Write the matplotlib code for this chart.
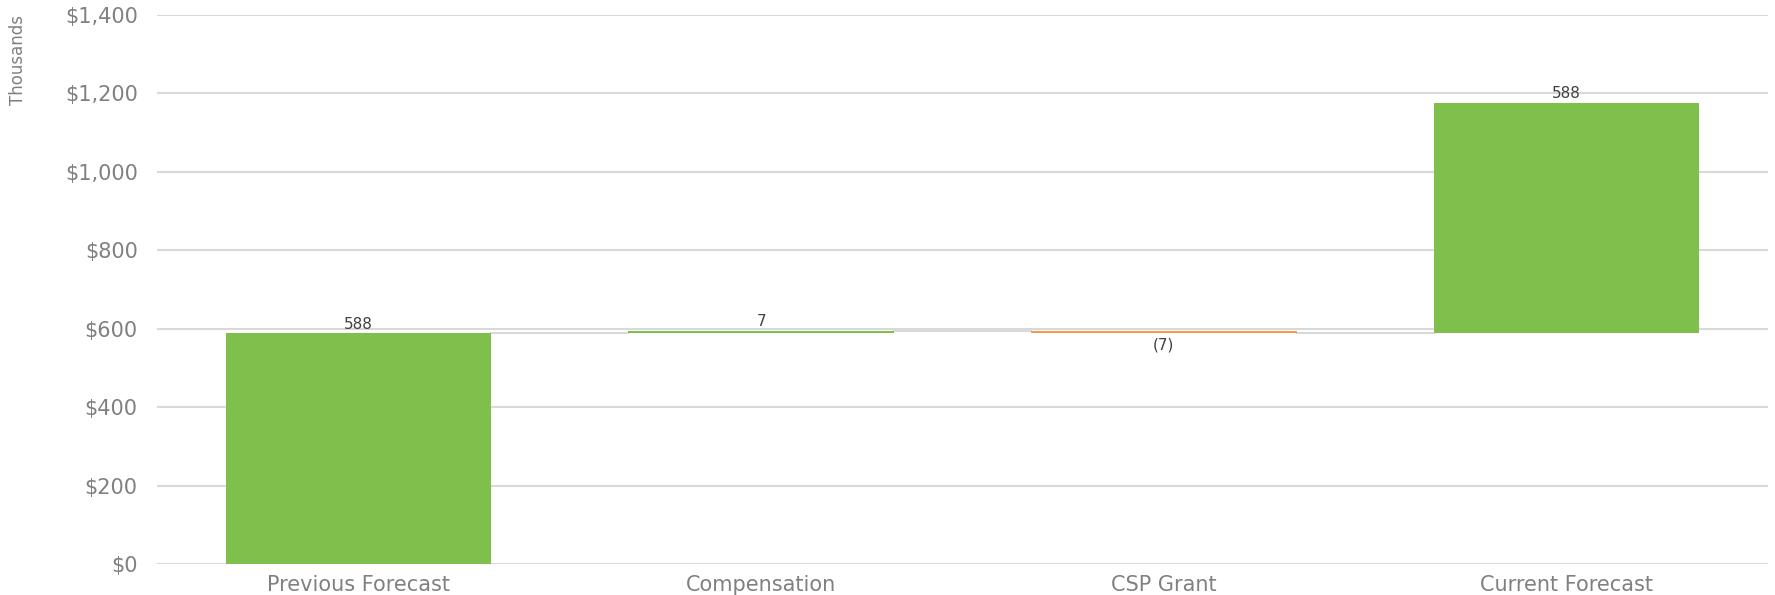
import matplotlib.pyplot as plt
from matplotlib.ticker import FuncFormatter

# Waterfall: previous forecast -> changes -> current forecast (in thousands)
categories = ['Previous Forecast', 'Compensation', 'CSP Grant', 'Current Forecast']
values = [588, 7, -7, 588]
labels = ['588', '7', '(7)', '588']

green = '#7fbf4b'
orange = '#f39a4f'
grid_col = '#d9d9d9'
tick_col = '#808080'

# each bar starts where the running total stands
bottoms = [sum(values[:i]) for i in range(len(values))]
tops = [b + v for b, v in zip(bottoms, values)]

colors = [green if v >= 0 else orange for v in values]

fig = plt.figure(figsize=(17.75, 5.95), dpi=100)
ax = fig.add_axes([0.0885, 0.052, 0.9075, 0.923])

x = list(range(len(categories)))
width = 0.66
ax.bar(x, values, bottom=bottoms, width=width, color=colors, zorder=3)

# connector lines between consecutive bars
for i in range(len(categories) - 1):
    level = bottoms[i + 1]
    ax.plot([i + width / 2, i + 1 - width / 2], [level, level],
            color=grid_col, lw=1.5, zorder=2)

# value labels
for i, (v, lab) in enumerate(zip(values, labels)):
    if v >= 0:
        ax.annotate(lab, (i, tops[i]), xytext=(0, 1), textcoords='offset points',
                    ha='center', va='bottom', fontsize=11, color='#404040', zorder=4)
    else:
        ax.annotate(lab, (i, tops[i]), xytext=(0, -3), textcoords='offset points',
                    ha='center', va='top', fontsize=11, color='#404040', zorder=4)

ax.set_xlim(-0.5, len(categories) - 0.5)
ax.set_ylim(0, 1400)
ax.set_yticks(range(0, 1401, 200))
ax.yaxis.set_major_formatter(FuncFormatter(lambda v, p: f'${v:,.0f}'))
ax.set_xticks(x)
ax.set_xticklabels(categories)
ax.tick_params(axis='both', length=0, labelsize=15, colors=tick_col)
ax.tick_params(axis='y', pad=14)
ax.tick_params(axis='x', pad=8)
ax.grid(axis='y', color=grid_col, lw=1.5, zorder=0)
ax.set_axisbelow(True)
for s in ax.spines.values():
    s.set_visible(False)

fig.text(0.005, 0.975, 'Thousands', rotation=90, ha='left', va='top',
         fontsize=12, color=tick_col, family=['Liberation Sans Narrow', 'DejaVu Sans'])

fig.savefig('out.png', dpi=100)
